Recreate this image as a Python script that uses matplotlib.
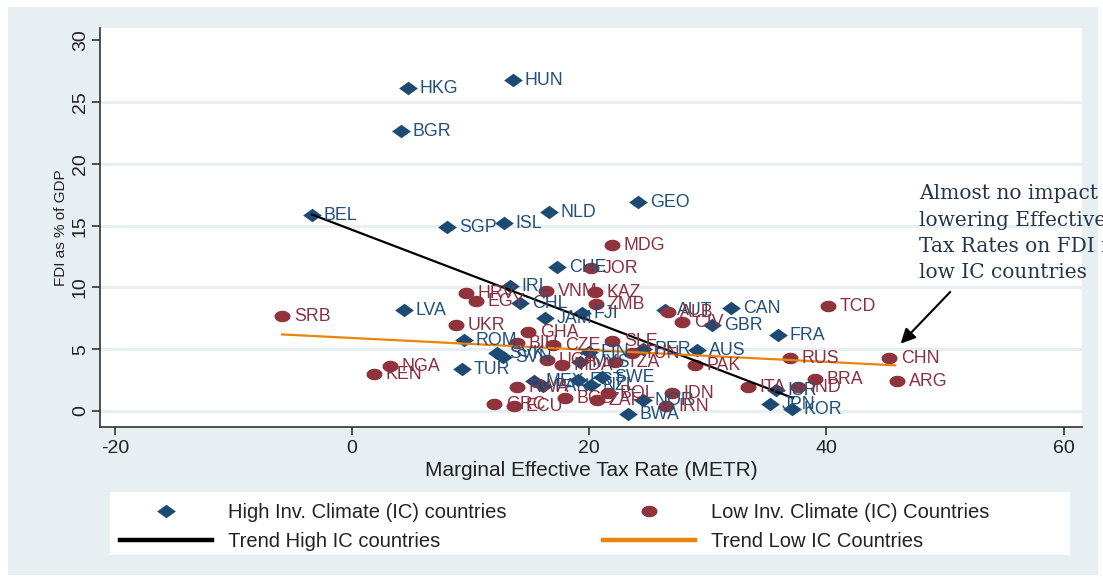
import matplotlib
matplotlib.use("Agg")
import matplotlib.pyplot as plt
from matplotlib.patches import Rectangle
from matplotlib.lines import Line2D
from matplotlib.path import Path
import numpy as np

# ---------------- data ----------------
high_codes = ["HKG", "HUN", "BGR", "BEL", "GEO", "NLD", "ISL", "SGP", "CHE", "IRL",
              "CHL", "LVA", "JAM", "FJI", "AUT", "CAN", "GBR", "FRA", "AUS", "PER",
              "ROM", "SVK", "SVN", "TUR", "MEX", "PAN", "EST", "NZL", "SWE", "MYS",
              "FIN", "ISR", "JPN", "KOR", "NOR", "BWA"]
high_x = [4.72, 13.58, 4.13, -3.37, 24.11, 16.61, 12.82, 8.01, 17.28, 13.32,
          14.17, 4.38, 16.27, 19.39, 26.39, 31.96, 30.35, 35.92, 29.09, 24.54,
          9.44, 12.23, 12.73, 9.27, 15.35, 16.10, 19.06, 20.15, 21.08, 19.22,
          19.98, 35.75, 35.24, 37.10, 24.54, 23.27]
high_y = [26.13, 26.78, 22.65, 15.86, 16.91, 16.10, 15.21, 14.89, 11.65, 10.11,
          8.74, 8.17, 7.52, 7.93, 8.17, 8.33, 6.96, 6.15, 4.94, 5.02,
          5.74, 4.69, 4.37, 3.40, 2.43, 2.02, 2.51, 2.10, 2.75, 3.96,
          4.77, 1.70, 0.57, 0.16, 0.89, -0.24]

low_codes = ["SRB", "MDG", "JOR", "VNM", "KAZ", "ZMB", "HRV", "EGY", "UKR", "GHA",
             "BIH", "CZE", "SLE", "TUN", "ALB", "CIV", "TCD", "RUS", "CHN", "ARG",
             "BRA", "NGA", "KEN", "UGA", "MDA", "TZA", "PAK", "IDN", "IRN", "BOL",
             "BGD", "ZAF", "ECU", "GRC", "RWA", "ITA", "IND"]
low_x = [-5.90, 21.92, 20.15, 16.36, 20.49, 20.57, 9.61, 10.46, 8.77, 14.84,
         13.91, 16.95, 21.92, 23.61, 26.64, 27.82, 40.13, 36.93, 45.28, 45.95,
         39.04, 3.20, 1.85, 16.44, 17.71, 22.18, 28.92, 26.98, 26.48, 21.59,
         17.96, 20.66, 13.66, 11.97, 13.91, 33.39, 37.61]
low_y = [7.69, 13.43, 11.57, 9.71, 9.63, 8.66, 9.55, 8.90, 6.96, 6.39,
         5.50, 5.34, 5.66, 4.69, 8.01, 7.20, 8.50, 4.29, 4.29, 2.43,
         2.59, 3.64, 2.99, 4.13, 3.72, 3.96, 3.72, 1.46, 0.40, 1.46,
         1.05, 0.89, 0.40, 0.57, 1.94, 1.94, 1.94]

trend_high_x = [-3.37, 37.2]
trend_high_y = [15.9, 1.05]
trend_low_x = [-5.9, 45.8]
trend_low_y = [6.2, 3.7]

x_ticks = [-20, 0, 20, 40, 60]
y_ticks = [0, 5, 10, 15, 20, 25, 30]

note_text = "Almost no impact of\nlowering Effective\nTax Rates on FDI in\nlow IC countries"

# ---------------- style ----------------
BLUE = "#1d4a72"
RED = "#8f333d"
BLUE_TXT = "#22507c"
RED_TXT = "#8a3141"
ORANGE = "#e8850c"
PANEL = "#e8eff2"
FONT = "Liberation Sans"

plt.rcParams["font.family"] = [FONT, "DejaVu Sans"]
plt.rcParams["axes.unicode_minus"] = False

diamond = Path([(-1, 0), (0, 0.72), (1, 0), (0, -0.72), (-1, 0)],
               [Path.MOVETO, Path.LINETO, Path.LINETO, Path.LINETO, Path.CLOSEPOLY])
theta = np.linspace(0, 2 * np.pi, 60)
ellipse = Path(np.column_stack([np.cos(theta), 0.72 * np.sin(theta)]))

W, H = 1103, 579
fig = plt.figure(figsize=(W / 100, H / 100), dpi=100)
fig.patch.set_facecolor("white")
fig.patches.append(Rectangle((8 / W, 4 / H), (1098 - 8) / W, (575 - 7) / H,
                             transform=fig.transFigure, facecolor=PANEL,
                             edgecolor="none", zorder=-10))
# legend box
fig.patches.append(Rectangle((110 / W, (H - 555) / H), 960 / W, 63 / H,
                             transform=fig.transFigure, facecolor="white",
                             edgecolor="none", zorder=-5))

left, right, top, bottom = 100, 1082, 28, 427
ax = fig.add_axes([left / W, (H - bottom) / H, (right - left) / W, (bottom - top) / H])
ax.set_facecolor("white")
ax.set_xlim(-21.25, 61.55)
ax.set_ylim(-1.29, 31.0)

for yv in y_ticks[:-1]:
    ax.axhline(yv, color=PANEL, lw=2.2, zorder=0)

for s in ["top", "right"]:
    ax.spines[s].set_visible(False)
for s in ["left", "bottom"]:
    ax.spines[s].set_color("#333333")
    ax.spines[s].set_linewidth(1.2)

ax.set_xticks(x_ticks)
ax.set_yticks(y_ticks)
ax.tick_params(axis="both", direction="out", length=6, width=1.2, color="#333333",
               labelsize=14, labelcolor="#222222")
ax.tick_params(axis="y", pad=2)
plt.setp(ax.get_yticklabels(), rotation=90, va="center")
ax.set_xlabel("Marginal Effective Tax Rate (METR)", fontsize=15, color="#222222", labelpad=3)
ax.set_ylabel("FDI as % of GDP", fontsize=11, color="#222222", labelpad=3)

# trend lines
ax.plot(trend_high_x, trend_high_y, color="black", lw=1.6, zorder=4)
ax.plot(trend_low_x, trend_low_y, color=ORANGE, lw=1.6, zorder=4)

# scatter
ax.plot(high_x, high_y, linestyle="none", marker=diamond, markersize=13.5,
        color=BLUE, markeredgewidth=0, zorder=3)
ax.plot(low_x, low_y, linestyle="none", marker=ellipse, markersize=11.5,
        color=RED, markeredgewidth=0, zorder=3)

for c, x, y in zip(high_codes, high_x, high_y):
    ax.annotate(c, (x, y), xytext=(8.5, -0.5), textcoords="offset points",
                va="center", ha="left", fontsize=12.8, color=BLUE_TXT, zorder=5)
for c, x, y in zip(low_codes, low_x, low_y):
    ax.annotate(c, (x, y), xytext=(8.5, -0.5), textcoords="offset points",
                va="center", ha="left", fontsize=12.8, color=RED_TXT, zorder=5)

# annotation
ax.text(47.8, 14.4, note_text, fontsize=14.5, family="DejaVu Serif",
        color="#24344a", va="center", ha="left", linespacing=1.48, clip_on=False)
ax.annotate("", xy=(46.1, 5.3), xytext=(50.6, 9.8),
            arrowprops=dict(arrowstyle="-|>", color="black", lw=1.5,
                            mutation_scale=22), annotation_clip=False)

# legend
handles = [
    Line2D([], [], linestyle="none", marker=diamond, markersize=13.5, color=BLUE, markeredgewidth=0),
    Line2D([], [], color="black", lw=3.2),
    Line2D([], [], linestyle="none", marker=ellipse, markersize=11.5, color=RED, markeredgewidth=0),
    Line2D([], [], color=ORANGE, lw=3.2),
]
labels = ["High Inv. Climate (IC) countries", "Trend High IC countries",
          "Low Inv. Climate (IC) Countries", "Trend Low IC Countries"]
leg = fig.legend(handles, labels, ncol=2, loc="upper left",
                 bbox_to_anchor=(120 / W, (H - 503) / H),
                 frameon=False, fontsize=14.5, handlelength=4.57,
                 handletextpad=0.8, borderpad=0, labelspacing=0.5,
                 columnspacing=4.8, borderaxespad=0)
for t in leg.get_texts():
    t.set_color("#222222")

fig.savefig("out.png", dpi=100, facecolor=fig.get_facecolor())
